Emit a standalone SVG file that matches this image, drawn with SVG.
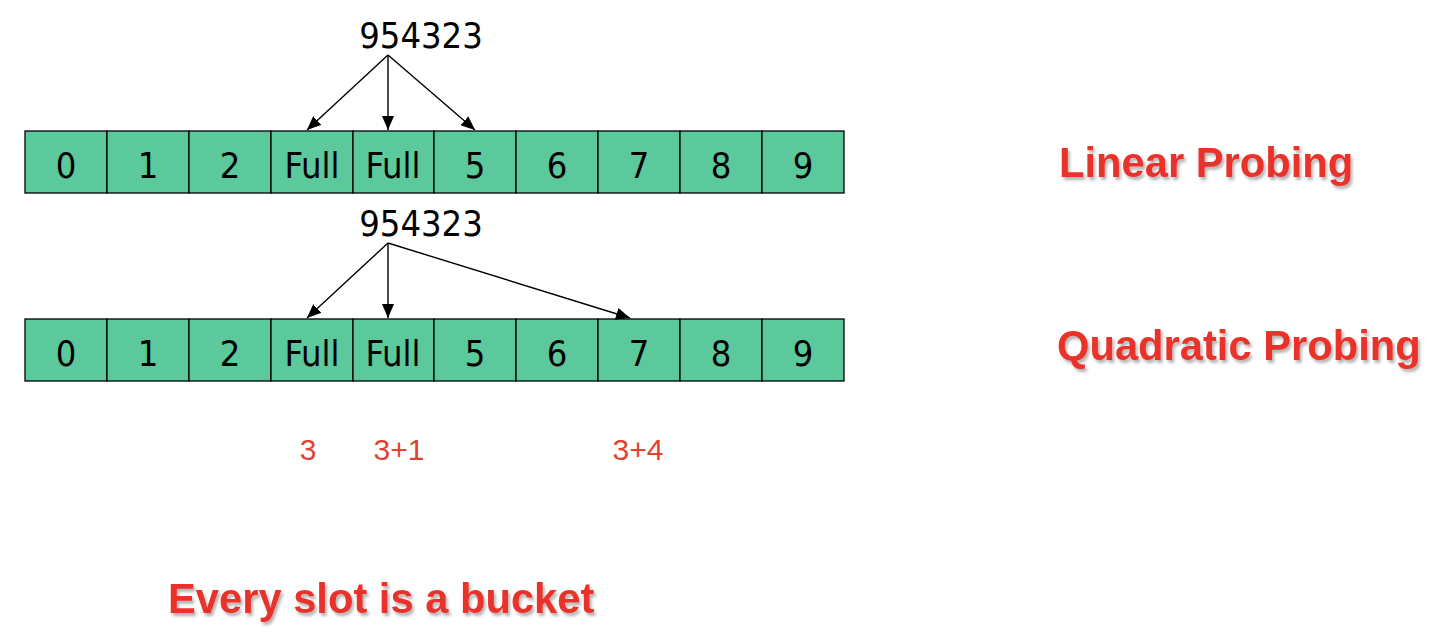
<svg xmlns="http://www.w3.org/2000/svg" width="1442" height="640" viewBox="0 0 1442 640">
<style>
.cell{fill:#5BC99C;stroke:#000;stroke-width:1.3}
.ct{font-family:"DejaVu Sans Condensed","DejaVu Sans",sans-serif;font-size:36px;fill:#000;text-anchor:middle}
.key{font-family:"DejaVu Sans Condensed","DejaVu Sans",sans-serif;font-size:36px;fill:#000;text-anchor:middle}
.title{font-family:"Liberation Sans",Arial,sans-serif;font-weight:bold;font-size:41.7px;fill:#E8312A;filter:url(#sh)}
.idx{font-family:"Liberation Sans",Arial,sans-serif;font-size:30px;fill:#E2432F;text-anchor:middle}
.arr{stroke:#000;stroke-width:1.4;fill:none;marker-end:url(#ah)}
</style>
<defs>
<marker id="ah" viewBox="0 0 14 12" refX="14" refY="6" markerWidth="14" markerHeight="12" markerUnits="userSpaceOnUse" orient="auto">
<path d="M0,0 L14,6 L0,12 z" fill="#000"/>
</marker>
<filter id="sh" x="-5%" y="-20%" width="110%" height="150%">
<feDropShadow dx="2" dy="3" stdDeviation="1.5" flood-color="#000" flood-opacity="0.3"/>
</filter>
</defs>
<rect width="1442" height="640" fill="#fff"/>

<g id="linear-row">
<rect class="cell" x="25" y="131" width="82" height="62"/>
<rect class="cell" x="107" y="131" width="82" height="62"/>
<rect class="cell" x="189" y="131" width="82" height="62"/>
<rect class="cell" x="271" y="131" width="82" height="62"/>
<rect class="cell" x="353" y="131" width="81" height="62"/>
<rect class="cell" x="434" y="131" width="82" height="62"/>
<rect class="cell" x="516" y="131" width="82" height="62"/>
<rect class="cell" x="598" y="131" width="82" height="62"/>
<rect class="cell" x="680" y="131" width="82" height="62"/>
<rect class="cell" x="762" y="131" width="82" height="62"/>
<text class="ct" x="66" y="178">0</text>
<text class="ct" x="148" y="178">1</text>
<text class="ct" x="230" y="178">2</text>
<text class="ct" x="312" y="178">Full</text>
<text class="ct" x="393" y="178">Full</text>
<text class="ct" x="475" y="178">5</text>
<text class="ct" x="557" y="178">6</text>
<text class="ct" x="639" y="178">7</text>
<text class="ct" x="721" y="178">8</text>
<text class="ct" x="803" y="178">9</text>
</g>

<g id="quadratic-row">
<rect class="cell" x="25" y="319" width="82" height="62"/>
<rect class="cell" x="107" y="319" width="82" height="62"/>
<rect class="cell" x="189" y="319" width="82" height="62"/>
<rect class="cell" x="271" y="319" width="82" height="62"/>
<rect class="cell" x="353" y="319" width="81" height="62"/>
<rect class="cell" x="434" y="319" width="82" height="62"/>
<rect class="cell" x="516" y="319" width="82" height="62"/>
<rect class="cell" x="598" y="319" width="82" height="62"/>
<rect class="cell" x="680" y="319" width="82" height="62"/>
<rect class="cell" x="762" y="319" width="82" height="62"/>
<text class="ct" x="66" y="366">0</text>
<text class="ct" x="148" y="366">1</text>
<text class="ct" x="230" y="366">2</text>
<text class="ct" x="312" y="366">Full</text>
<text class="ct" x="393" y="366">Full</text>
<text class="ct" x="475" y="366">5</text>
<text class="ct" x="557" y="366">6</text>
<text class="ct" x="639" y="366">7</text>
<text class="ct" x="721" y="366">8</text>
<text class="ct" x="803" y="366">9</text>
</g>

<g id="key-linear"><text class="key" x="421" y="48">954323</text></g>
<g id="key-quadratic"><text class="key" x="421" y="236">954323</text></g>

<g id="connectors">
<line class="arr" x1="388" y1="55" x2="307" y2="130"/>
<line class="arr" x1="388" y1="55" x2="388" y2="130"/>
<line class="arr" x1="388" y1="55" x2="475" y2="130"/>
<line class="arr" x1="388" y1="243" x2="307" y2="318"/>
<line class="arr" x1="388" y1="243" x2="388" y2="318"/>
<line class="arr" x1="388" y1="243" x2="630" y2="318"/>
</g>

<g id="label-linear"><text class="title" x="1059" y="177">Linear Probing</text></g>
<g id="label-quadratic"><text class="title" x="1057" y="360">Quadratic Probing</text></g>
<g id="probe-indices">
<text class="idx" x="308" y="460">3</text>
<text class="idx" x="399" y="460">3+1</text>
<text class="idx" x="638" y="460">3+4</text>
</g>
<g id="caption"><text class="title" x="168" y="613" font-size="42.2px">Every slot is a bucket</text></g>
</svg>
